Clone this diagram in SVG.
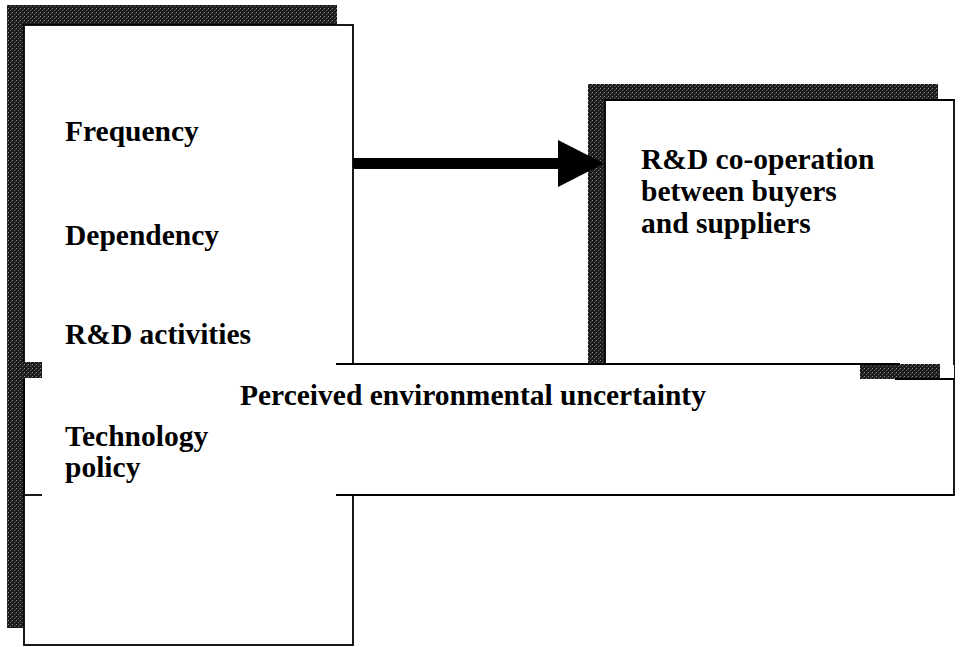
<svg xmlns="http://www.w3.org/2000/svg" width="960" height="647" viewBox="0 0 960 647">
<defs>
<pattern id="dither" width="4" height="4" patternUnits="userSpaceOnUse">
<rect width="4" height="4" fill="#1c1c1c"/>
<rect x="0" y="0" width="1" height="1" fill="#8a8a8a"/>
<rect x="2" y="2" width="1" height="1" fill="#6a6a6a"/>
<rect x="3" y="1" width="1" height="1" fill="#444"/>
</pattern>
</defs>
<style>
.shadow{fill:url(#dither)}
.box{fill:#fff;stroke:#000;stroke-width:1.8}
.edge{stroke:#000;stroke-width:1.8;fill:none}
.lbl{font-family:"Liberation Serif","Times New Roman",serif;font-weight:bold;font-size:29.5px;fill:#000}
</style>
<rect width="960" height="647" fill="#fff"/>
<g id="factors-box">
<rect class="shadow" x="7" y="5" width="330" height="623"/>
<rect class="box" x="24" y="25" width="329" height="620"/>
</g>
<g id="cooperation-box">
<rect class="shadow" x="588" y="84" width="350" height="280"/>
<rect x="605" y="100" width="349" height="264" fill="#fff"/>
<path class="edge" d="M605,364 V100 H954 V379"/>
<text class="lbl" x="641" y="169">R&amp;D co-operation</text>
<text class="lbl" x="641" y="201">between buyers</text>
<text class="lbl" x="641" y="233">and suppliers</text>
</g>
<g id="uncertainty-box">
<rect x="25" y="365" width="929" height="130" fill="#fff"/>
<rect class="shadow" x="23" y="362" width="19" height="16"/>
<rect class="shadow" x="860" y="364" width="80" height="15"/>
<path class="edge" d="M336,364 H900"/>
<path class="edge" d="M895,379 H954 V495 H336"/>
<path class="edge" d="M24,495 H42"/>
<path class="edge" d="M24,378 V495"/>
<text class="lbl" x="240" y="405">Perceived environmental uncertainty</text>
</g>
<g id="factors-labels">
<text class="lbl" x="65" y="141">Frequency</text>
<text class="lbl" x="65" y="245">Dependency</text>
<text class="lbl" x="65" y="344">R&amp;D activities</text>
<text class="lbl" x="65" y="446">Technology</text>
<text class="lbl" x="65" y="477">policy</text>
</g>
<g id="connectors">
<rect x="353" y="158" width="207" height="11" fill="#000"/>
<polygon points="558,140 604,163.5 558,187" fill="#000"/>
</g>
</svg>
